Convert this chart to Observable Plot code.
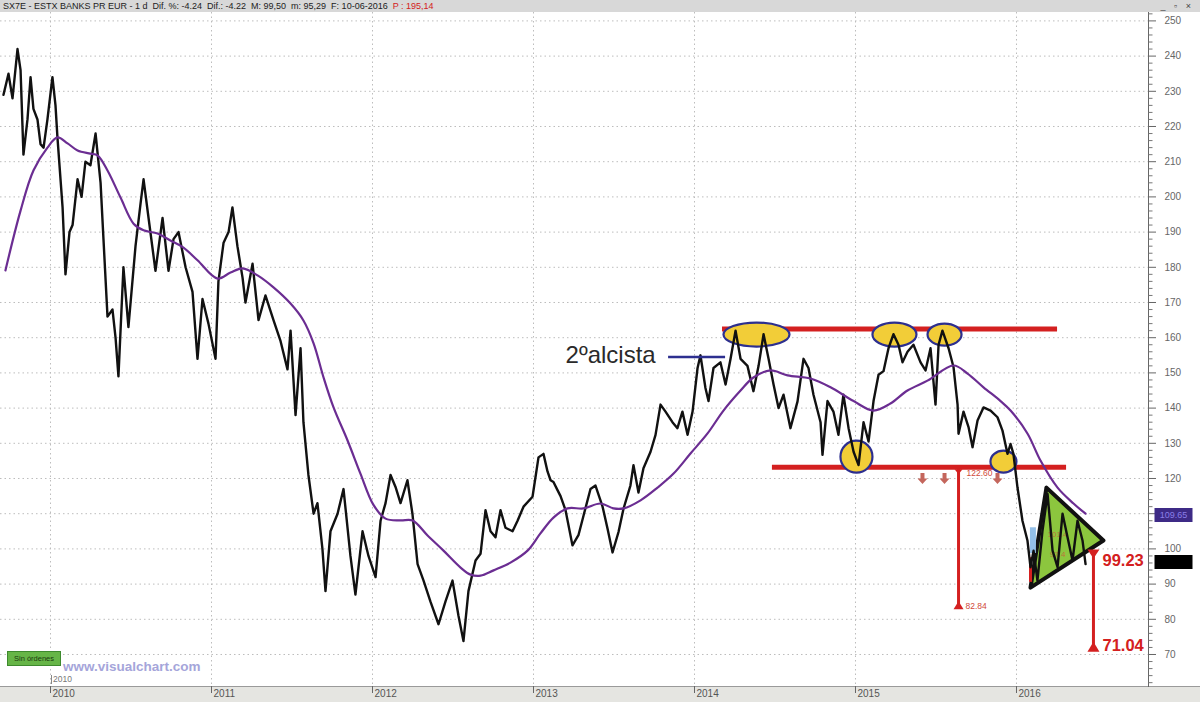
<!DOCTYPE html>
<html><head><meta charset="utf-8">
<script src="https://cdn.jsdelivr.net/npm/d3@7"></script>
<script src="https://cdn.jsdelivr.net/npm/@observablehq/plot@0.6"></script>
<style>
html,body{margin:0;padding:0;background:#fff;width:1200px;height:702px;overflow:hidden;font-family:"Liberation Sans",Arial,sans-serif;}
#wrap{position:relative;width:1200px;height:702px;}
#header{position:absolute;left:0;top:0;width:1200px;height:12px;background:#d8d8d8;font-size:9px;line-height:12px;color:#222;white-space:pre;padding-left:3px;box-sizing:border-box;}
#header .red{color:#d42020;}
#header .win{position:absolute;right:6px;top:0;font-size:9px;color:#444;letter-spacing:3px;}
#band{position:absolute;left:0;top:686px;width:1200px;height:16px;background:#e5e5e1;border-top:1px solid #9a9a9a;box-sizing:border-box;}
#chart{position:absolute;left:0;top:12px;}
#sin{position:absolute;left:7px;top:651px;width:54px;height:15px;background:#66b547;border:1px solid #3e8a2e;box-sizing:border-box;font-size:7.5px;line-height:13px;color:#1b3b10;text-align:center;}
#vc{position:absolute;left:63px;top:659px;font-size:13.5px;line-height:15px;font-weight:bold;color:#a5a5da;}
#ghost{position:absolute;left:51px;top:675px;font-size:8.5px;color:#777;border-left:1px solid #888;padding-left:1px;line-height:9px;}
</style></head>
<body><div id="wrap">
<div id="band"></div>
<div id="chart"></div>
<div id="header">SX7E - ESTX BANKS PR EUR - 1 d  Dif. %: -4.24  Dif.: -4.22  M: 99,50  m: 95,29  F: 10-06-2016  <span class="red">P : 195,14</span><span class="win">_ ▫ ×</span></div>
<div id="sin">Sin órdenes</div>
<div id="ghost">2010</div>
<div id="vc">www.visualchart.com</div>
</div>
<script>
// ---------- data ----------
const yearTicks = [2010, 2011, 2012, 2013, 2014, 2015, 2016];
const priceTicks = [70, 80, 90, 100, 110, 120, 130, 140, 150, 160, 170, 180, 190, 200, 210, 220, 230, 240, 250];

// daily close path (decimal years / price)
const priceT = [2009.708,2009.739,2009.764,2009.795,2009.814,2009.832,2009.857,2009.876,2009.894,2009.919,2009.938,2009.957,2009.981,
2010.012,2010.031,2010.043,2010.075,2010.093,2010.118,2010.137,2010.168,2010.193,2010.217,2010.248,2010.280,2010.311,2010.329,2010.354,2010.385,2010.404,2010.422,2010.453,2010.484,2010.528,2010.559,2010.578,2010.609,2010.652,2010.696,2010.733,2010.764,2010.795,2010.839,2010.882,2010.913,2010.944,2010.981,
2011.025,2011.043,2011.075,2011.106,2011.130,2011.161,2011.193,2011.211,2011.255,2011.292,2011.335,2011.385,2011.429,2011.472,2011.491,2011.522,2011.553,2011.571,2011.602,2011.634,2011.658,2011.689,2011.708,2011.739,2011.783,2011.820,2011.863,2011.894,2011.938,2011.975,
2012.019,2012.050,2012.081,2012.112,2012.143,2012.174,2012.217,2012.248,2012.280,2012.317,2012.360,2012.410,2012.453,2012.497,2012.534,2012.565,2012.596,2012.640,2012.671,2012.702,2012.733,2012.764,2012.795,2012.826,2012.870,2012.901,2012.938,2012.994,
2013.031,2013.062,2013.087,2013.106,2013.124,2013.149,2013.168,2013.199,2013.242,2013.280,2013.311,2013.354,2013.385,2013.429,2013.460,2013.491,2013.528,2013.559,2013.602,2013.621,2013.652,2013.683,2013.727,2013.758,2013.789,2013.820,2013.863,2013.894,2013.925,2013.957,2013.988,
2014.019,2014.037,2014.068,2014.087,2014.118,2014.161,2014.193,2014.224,2014.255,2014.286,2014.329,2014.366,2014.398,2014.429,2014.460,2014.491,2014.522,2014.553,2014.596,2014.640,2014.677,2014.708,2014.739,2014.783,2014.795,2014.826,2014.863,2014.894,2014.925,2014.957,2014.988,
2015.019,2015.050,2015.081,2015.112,2015.143,2015.174,2015.205,2015.236,2015.267,2015.292,2015.323,2015.360,2015.404,2015.435,2015.466,2015.497,2015.516,2015.540,2015.578,2015.609,2015.634,2015.640,2015.671,2015.702,2015.727,2015.758,2015.795,2015.839,2015.882,2015.913,2015.944,2015.963,2015.981,
2016.006,2016.037,2016.068,2016.087,2016.106,2016.130,2016.161,2016.193,2016.224,2016.255,2016.286,2016.317,2016.348,2016.379,2016.410,2016.429];
const priceV = [229,235,228,242,236,212,222,234,225,222,215,214,222,
234,226,217,197,178,190,192,205,200,210,209,218,204,188,166,168,160,149,180,163,186,198,205,194,179,194,179,188,190,180,173,154,171,164,
154,176,187,190,197,186,177,170,181,165,172,165,159,151,162,138,157,136,121,110,113,100,88,105,110,117,98,87,105,98,
92,108,113,121,117.6,113,119.5,110,95.7,91,85,78.6,85,91,81,73.8,88,96.7,98.6,111,105,103.3,111,106,105,108,112,114.8,
126,127,122,119.5,119,116.7,115,111,101,104,109.5,117,118,112,105.7,99,104.8,111.4,118,123.8,116,122.9,127.6,132.4,141,139,136,134.3,139,132.4,139,
151.4,155,145.7,142,151.4,153,146.7,154,162,154,152,144.8,152,161,154,146.7,140,143.8,134.3,141.9,154,151.4,143.8,136,126.7,142,139,132.4,143.8,134.3,127.6,
123.8,136,130.5,142,149.5,150.5,157,161,158,153,156,158,153,150.7,157,141,158,162,157,151.6,141,132.7,139,134.6,128.9,136.5,140.2,139.3,137.4,133.6,127,129.8,127,
117.5,108,102.4,94.8,99.5,91,105,115.6,99.5,94.8,110,103.3,96.7,108,102.4,95.7];

// moving average (purple)
const maT = [2009.720,2009.814,2009.894,2009.981,2010.043,2010.106,2010.168,2010.248,2010.292,2010.354,2010.435,2010.516,2010.578,2010.665,2010.745,2010.826,2010.913,
2011.037,2011.118,2011.193,2011.286,2011.385,2011.491,2011.571,2011.634,2011.696,2011.758,2011.845,2011.925,
2012.006,2012.081,2012.174,2012.248,2012.342,2012.441,2012.547,2012.609,2012.671,2012.752,2012.857,2012.963,
2013.043,2013.124,2013.211,2013.311,2013.416,2013.497,2013.559,2013.665,2013.770,2013.870,2013.975,
2014.081,2014.180,2014.286,2014.366,2014.472,2014.578,2014.720,2014.845,2014.988,
2015.112,2015.217,2015.323,2015.447,2015.609,2015.696,2015.795,2015.901,2015.963,
2016.068,2016.149,2016.255,2016.354,2016.429];
const maV = [179.1,196.1,207.5,214,216.9,215.2,213.2,212.3,211.8,207.5,199.8,192.4,190.5,189.6,187.6,185.6,182,
176.8,178.5,179.7,177.7,174.3,169.7,164.9,158.4,148.7,140.2,130.8,121.4,
112.5,108.6,108.1,108.1,103.8,99.5,94.7,92.7,92.4,93.9,96.1,99.5,
104.4,108.9,111.5,111.5,112.9,111.5,111.5,113.8,117.4,121.4,127.1,
132.8,139.3,145,148.7,150.7,149.3,148.4,145.9,142,
139.3,141.3,145,147.8,152.1,149.8,145.9,142,139.3,
132.8,125.1,117.4,112.9,110.0];

// drawn annotations
const levelY = [162.5, 123.2];
const levelStart = [2014.174, 2014.484];
const levelEnd = [2016.255, 2016.311];
const ellipseT = [2014.385, 2015.242, 2015.553, 2015.006, 2015.919];
const ellipseV = [160.9, 160.9, 160.9, 126.2, 124.8];
const triangleT = [2016.186, 2016.540, 2016.087, 2016.186];
const triangleV = [117.4, 102.4, 89.0, 117.4];
const downArrowT = [2015.416, 2015.553, 2015.882];
const downArrowV = [120, 120, 120];
const targetT = [2015.640, 2016.478];
const targetFrom = [122.60, 99.23];
const targetTo = [82.84, 71.04];
const axisBoxLabels = ["109.65", ""];
const axisBoxValues = [109.65, 96.3];
const hiddenTickLabels = [110]; // covered by the value box on the axis

// ---------- chart ----------
const xMin = 2009.6894, xMax = 2016.8199;
const yMin = 60.909, yMax = 252.386;

const minorTicks = d3.range(62, 253, 2).filter(v => v % 10 !== 0);
const price = priceT.map((t, i) => ({t, v: priceV[i]}));
const ma = maT.map((t, i) => ({t, v: maV[i]}));
const levels = levelY.map((v, i) => ({v, t1: levelStart[i], t2: levelEnd[i]}));
const tri = triangleT.map((t, i) => ({t, v: triangleV[i]}));

function ellipseSym(rx, ry) {
  return {draw(ctx) {
    const k = 0.5523, ox = rx * k, oy = ry * k;
    ctx.moveTo(-rx, 0);
    ctx.bezierCurveTo(-rx, -oy, -ox, -ry, 0, -ry);
    ctx.bezierCurveTo(ox, -ry, rx, -oy, rx, 0);
    ctx.bezierCurveTo(rx, oy, ox, ry, 0, ry);
    ctx.bezierCurveTo(-ox, ry, -rx, oy, -rx, 0);
    ctx.closePath();
  }};
}
function polySym(pts) {
  return {draw(ctx) {
    ctx.moveTo(pts[0][0], pts[0][1]);
    for (let i = 1; i < pts.length; i++) ctx.lineTo(pts[i][0], pts[i][1]);
    ctx.closePath();
  }};
}
const hline = {draw(ctx) { ctx.moveTo(0, 0); ctx.lineTo(4, 0); }};
const boxSym = {draw(ctx) { ctx.rect(-19, -7, 38, 14); }};
const ellipseSizes = [[33, 12], [22, 12], [17, 11], [16, 16], [13, 11]];
const RED = "#d42020";

const ellipseMarks = ellipseT.map((t, i) => Plot.dot([{t, v: ellipseV[i]}], {
  x: "t", y: "v", symbol: ellipseSym(...ellipseSizes[i]), fill: "#f2cd38", stroke: "#2d2f8f", strokeWidth: 2.2
}));

const chart = Plot.plot({
  width: 1200, height: 690,
  marginLeft: 0, marginRight: 52, marginTop: 0, marginBottom: 16,
  style: {background: "none", fontFamily: "Liberation Sans, Arial, sans-serif", fontSize: "10px", color: "#666", overflow: "visible"},
  x: {type: "linear", domain: [xMin, xMax], axis: null},
  y: {domain: [yMin, yMax], axis: "right", ticks: priceTicks, tickSize: 7, tickPadding: 9,
      tickFormat: d => hiddenTickLabels.includes(d) ? "" : String(d), label: null, line: true},
  marks: [
    Plot.ruleY(priceTicks, {stroke: "#bdbdbd", strokeDasharray: "1.5,3"}),
    Plot.ruleX(yearTicks, {stroke: "#bdbdbd", strokeDasharray: "1.5,3"}),
    Plot.dot(minorTicks, {x: () => xMax, y: d => d, symbol: hline, stroke: "#777", fill: "none", strokeWidth: 1}),
    // red support / resistance
    Plot.ruleY(levels, {y: "v", x1: "t1", x2: "t2", stroke: RED, strokeWidth: 5}),
    ...ellipseMarks,
    // green triangle
    Plot.line(tri, {x: "t", y: "v", fill: "#8cc63e", stroke: "#111", strokeWidth: 4, strokeLinejoin: "round"}),
    // light blue marker and red bar
    Plot.ruleX([{t: 2016.102, a: 98.7, b: 106}], {x: "t", y1: "a", y2: "b", stroke: "#93bfe8", strokeWidth: 6}),
    Plot.ruleX([{t: 2016.087, a: 90.5, b: 97.5}], {x: "t", y1: "a", y2: "b", stroke: RED, strokeWidth: 3}),
    Plot.text([{t: 2016.255, v: 104.2, s: "101.4"}, {t: 2016.255, v: 98.5, s: "97.4"}], {x: "t", y: "v", text: "s", fill: "#d04a3a", fillOpacity: 0.7, fontSize: 8}),
    // price and moving average
    Plot.line(price, {x: "t", y: "v", stroke: "#111", strokeWidth: 2.4, strokeLinejoin: "round"}),
    Plot.line(ma, {x: "t", y: "v", stroke: "#6b2d92", strokeWidth: 2.2, curve: "catmull-rom"}),
    // down arrows
    Plot.dot(downArrowT.map((t, i) => ({t, v: downArrowV[i]})), {x: "t", y: "v",
      symbol: polySym([[-2, -5.5], [2, -5.5], [2, 0], [5, 0], [0, 5.5], [-5, 0], [-2, 0]]), fill: "#c4665c", stroke: "none"}),
    // target arrows
    Plot.ruleX(targetT.map((t, i) => ({t, a: targetFrom[i], b: targetTo[i]})), {x: "t", y1: "a", y2: "b", stroke: RED, strokeWidth: 3}),
    Plot.dot([{t: targetT[0], v: targetTo[0]}], {x: "t", y: "v", symbol: polySym([[0, -8], [5, 0], [-5, 0]]), fill: RED, stroke: "none"}),
    Plot.dot([{t: targetT[0], v: targetFrom[0]}], {x: "t", y: "v", symbol: polySym([[-4, 0], [4, 0], [0, 5]]), fill: RED, stroke: "none"}),
    Plot.dot([{t: targetT[1], v: targetFrom[1]}], {x: "t", y: "v", symbol: polySym([[-6, -2], [6, -2], [0, 7]]), fill: RED, stroke: "none"}),
    Plot.dot([{t: targetT[1], v: targetTo[1]}], {x: "t", y: "v", symbol: polySym([[0, -9], [6, 1], [-6, 1]]), fill: RED, stroke: "none"}),
    Plot.text([{t: targetT[0], v: targetFrom[0], s: "122.60"}], {x: "t", y: "v", text: "s", dx: 8, dy: 4, textAnchor: "start", fill: "#d04a3a", fontSize: 8.5}),
    Plot.text([{t: targetT[0], v: targetTo[0], s: "82.84"}], {x: "t", y: "v", text: "s", dx: 7, dy: -3, textAnchor: "start", fill: "#d04a3a", fontSize: 8.5}),
    Plot.text([{t: targetT[1], v: targetFrom[1], s: "99.23"}], {x: "t", y: "v", text: "s", dx: 9, dy: 9, textAnchor: "start", fill: RED, fontSize: 16.5, fontWeight: "bold"}),
    Plot.text([{t: targetT[1], v: targetTo[1], s: "71.04"}], {x: "t", y: "v", text: "s", dx: 9, dy: -5, textAnchor: "start", fill: RED, fontSize: 16.5, fontWeight: "bold"}),
    // 2ºalcista
    Plot.text([{t: 2013.199, v: 154.9, s: "2ºalcista"}], {x: "t", y: "v", text: "s", textAnchor: "start", fill: "#2a2a2a", fontSize: 24}),
    Plot.ruleY([{v: 154.5, a: 2013.839, b: 2014.193}], {y: "v", x1: "a", x2: "b", stroke: "#2d2f8f", strokeWidth: 2.5}),
    // value boxes on axis
    Plot.dot(axisBoxValues.map((v, i) => ({v, i})), {x: () => xMax, y: "v", dx: 25, symbol: boxSym,
      fill: d => d.i === 0 ? "#3d2a86" : "#000", stroke: "none"}),
    Plot.text(axisBoxValues.map((v, i) => ({v, s: axisBoxLabels[i]})), {x: () => xMax, y: "v", dx: 25, text: "s", fill: "#8a7ee8", fontSize: 9}),
    // x axis
    Plot.ruleX(yearTicks, {insetTop: 674, insetBottom: -7, stroke: "#666"}),
    Plot.text(yearTicks, {x: d => d, text: d => String(d), frameAnchor: "bottom", dy: 10, dx: 2, textAnchor: "start", fill: "#555", fontSize: 10})
  ]
});
document.getElementById("chart").appendChild(chart);
</script>
</body></html>
